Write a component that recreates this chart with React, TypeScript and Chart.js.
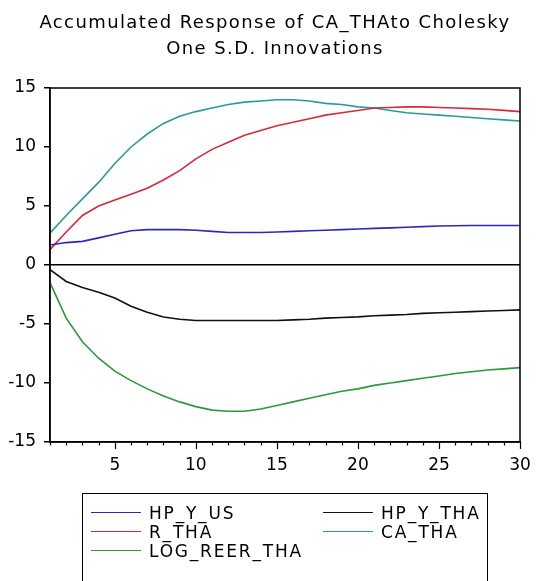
import React, { useEffect, useRef } from "react";
import { Chart, registerables } from "chart.js";

Chart.register(...registerables);

const periods = Array.from({ length: 30 }, (_, i) => String(i + 1));

const hpYUs = [1.7, 1.9, 2.0, 2.3, 2.6, 2.9, 3.0, 3.0, 3.0, 2.95, 2.85, 2.75, 2.75, 2.75, 2.8, 2.85, 2.9, 2.95, 3.0, 3.05, 3.1, 3.15, 3.2, 3.25, 3.3, 3.32, 3.35, 3.35, 3.35, 3.35];
const hpYTha = [-0.4, -1.4, -1.9, -2.3, -2.8, -3.5, -4.0, -4.4, -4.6, -4.7, -4.7, -4.7, -4.7, -4.7, -4.7, -4.65, -4.6, -4.5, -4.45, -4.4, -4.3, -4.25, -4.2, -4.1, -4.05, -4.0, -3.95, -3.9, -3.85, -3.8];
const rTha = [1.3, 2.8, 4.2, 5.0, 5.5, 6.0, 6.5, 7.2, 8.0, 9.0, 9.8, 10.4, 11.0, 11.4, 11.8, 12.1, 12.4, 12.7, 12.9, 13.1, 13.3, 13.35, 13.4, 13.4, 13.35, 13.3, 13.25, 13.2, 13.1, 13.0];
const caTha = [2.7, 4.2, 5.6, 7.0, 8.6, 10.0, 11.1, 12.0, 12.6, 13.0, 13.3, 13.6, 13.8, 13.9, 14.0, 14.0, 13.9, 13.7, 13.6, 13.4, 13.3, 13.1, 12.9, 12.8, 12.7, 12.6, 12.5, 12.4, 12.3, 12.2];
const logReerTha = [-1.5, -4.5, -6.5, -7.9, -9.0, -9.8, -10.5, -11.1, -11.6, -12.0, -12.3, -12.4, -12.4, -12.2, -11.9, -11.6, -11.3, -11.0, -10.7, -10.5, -10.2, -10.0, -9.8, -9.6, -9.4, -9.2, -9.05, -8.9, -8.8, -8.7];

const titleLines = ["Accumulated Response of CA_THAto Cholesky", "One S.D. Innovations"];
const seriesNames = ["HP_Y_US", "HP_Y_THA", "R_THA", "CA_THA", "LOG_REER_THA"];
const seriesColors = ["#2a2ab8", "#111111", "#d8283c", "#2a9a9a", "#2a9a3a"];
const seriesData = [hpYUs, hpYTha, rTha, caTha, logReerTha];

const FONT = "'DejaVu Sans', 'Liberation Sans', Arial, sans-serif";

const framePlugin = {
  id: "frame",
  afterDraw(chart: any) {
    const { ctx, chartArea } = chart;
    const xs = chart.scales.x;
    ctx.save();
    ctx.strokeStyle = "#000";
    ctx.lineWidth = 1.5;
    ctx.strokeRect(chartArea.left, chartArea.top, chartArea.right - chartArea.left, chartArea.bottom - chartArea.top);
    ctx.lineWidth = 1.2;
    ctx.beginPath();
    for (let i = 0; i < periods.length; i++) {
      const px = Math.round(xs.getPixelForTick(i)) + 0.5;
      const len = (i + 1) % 5 === 0 ? 7 : 3.5;
      ctx.moveTo(px, chartArea.bottom);
      ctx.lineTo(px, chartArea.bottom + len);
    }
    ctx.stroke();
    ctx.restore();
  },
};

export default function App() {
  const ref = useRef<HTMLCanvasElement | null>(null);

  useEffect(() => {
    if (!ref.current) return;
    const chart = new Chart(ref.current, {
      type: "line",
      data: {
        labels: periods,
        datasets: seriesData.map((d, i) => ({
          label: seriesNames[i],
          data: d,
          borderColor: seriesColors[i],
          backgroundColor: seriesColors[i],
          borderWidth: 1.6,
          pointRadius: 0,
          tension: 0,
          fill: false,
        })),
      },
      options: {
        responsive: false,
        animation: false,
        layout: { padding: { left: 0, right: 28, top: 88, bottom: 109 } },
        plugins: {
          legend: { display: false },
          tooltip: { enabled: false },
          title: { display: false },
        },
        scales: {
          x: {
            type: "category",
            offset: false,
            grid: {
              display: true,
              drawOnChartArea: false,
              drawTicks: false,
              color: "#000",
            },
            border: { display: true, color: "#000", width: 1.5 },
            ticks: {
              autoSkip: false,
              maxRotation: 0,
              color: "#000",
              padding: 13,
              font: { family: FONT, size: 17 },
              callback: (_v: any, idx: number) => ((idx + 1) % 5 === 0 ? String(idx + 1) : ""),
            },
            afterFit(scale: any) {
              scale.height = 30;
            },
          },
          y: {
            min: -15,
            max: 15,
            ticks: {
              stepSize: 5,
              color: "#000",
              padding: 8,
              font: { family: FONT, size: 17 },
            },
            grid: {
              drawOnChartArea: true,
              drawTicks: true,
              tickLength: 6,
              tickColor: "#000",
              color: (c: any) => (c.tick && c.tick.value === 0 ? "#000" : "rgba(0,0,0,0)"),
              lineWidth: 1.5,
            },
            border: { display: true, color: "#000", width: 1.5 },
            afterFit(scale: any) {
              scale.width = 50;
            },
          },
        },
      },
      plugins: [framePlugin],
    });
    return () => chart.destroy();
  }, []);

  const legendItems = [
    { si: 0, col: 0, row: 0 },
    { si: 1, col: 1, row: 0 },
    { si: 2, col: 0, row: 1 },
    { si: 3, col: 1, row: 1 },
    { si: 4, col: 0, row: 2 },
  ];

  return (
    <div style={{ position: "absolute", left: 0, top: 0, width: 548, height: 581, overflow: "hidden", background: "#fff" }}>
      <canvas ref={ref} width={548} height={581} style={{ width: 548, height: 581, display: "block" }} />
      {titleLines.map((t, i) => (
        <div
          key={i}
          style={{
            position: "absolute",
            left: 0,
            width: 550,
            top: 10 + i * 26,
            height: 24,
            lineHeight: "24px",
            textAlign: "center",
            fontFamily: FONT,
            fontSize: 18,
            letterSpacing: "1.4px",
            color: "#000",
            whiteSpace: "nowrap",
          }}
        >
          {t}
        </div>
      ))}
      <div
        style={{
          position: "absolute",
          left: 82,
          top: 493,
          width: 406,
          height: 100,
          border: "1.5px solid #000",
          boxSizing: "border-box",
          fontFamily: FONT,
          fontSize: 17,
          letterSpacing: "1.8px",
          color: "#000",
        }}
      >
        {legendItems.map((it) => (
          <div
            key={it.si}
            style={{
              position: "absolute",
              left: it.col === 0 ? 8 : 240,
              top: 9 + it.row * 19,
              height: 19,
              display: "flex",
              alignItems: "center",
              whiteSpace: "nowrap",
            }}
          >
            <span style={{ display: "inline-block", width: 50, height: 0, borderTop: `1.5px solid ${seriesColors[it.si]}`, marginRight: 8 }} />
            <span>{seriesNames[it.si]}</span>
          </div>
        ))}
      </div>
    </div>
  );
}
